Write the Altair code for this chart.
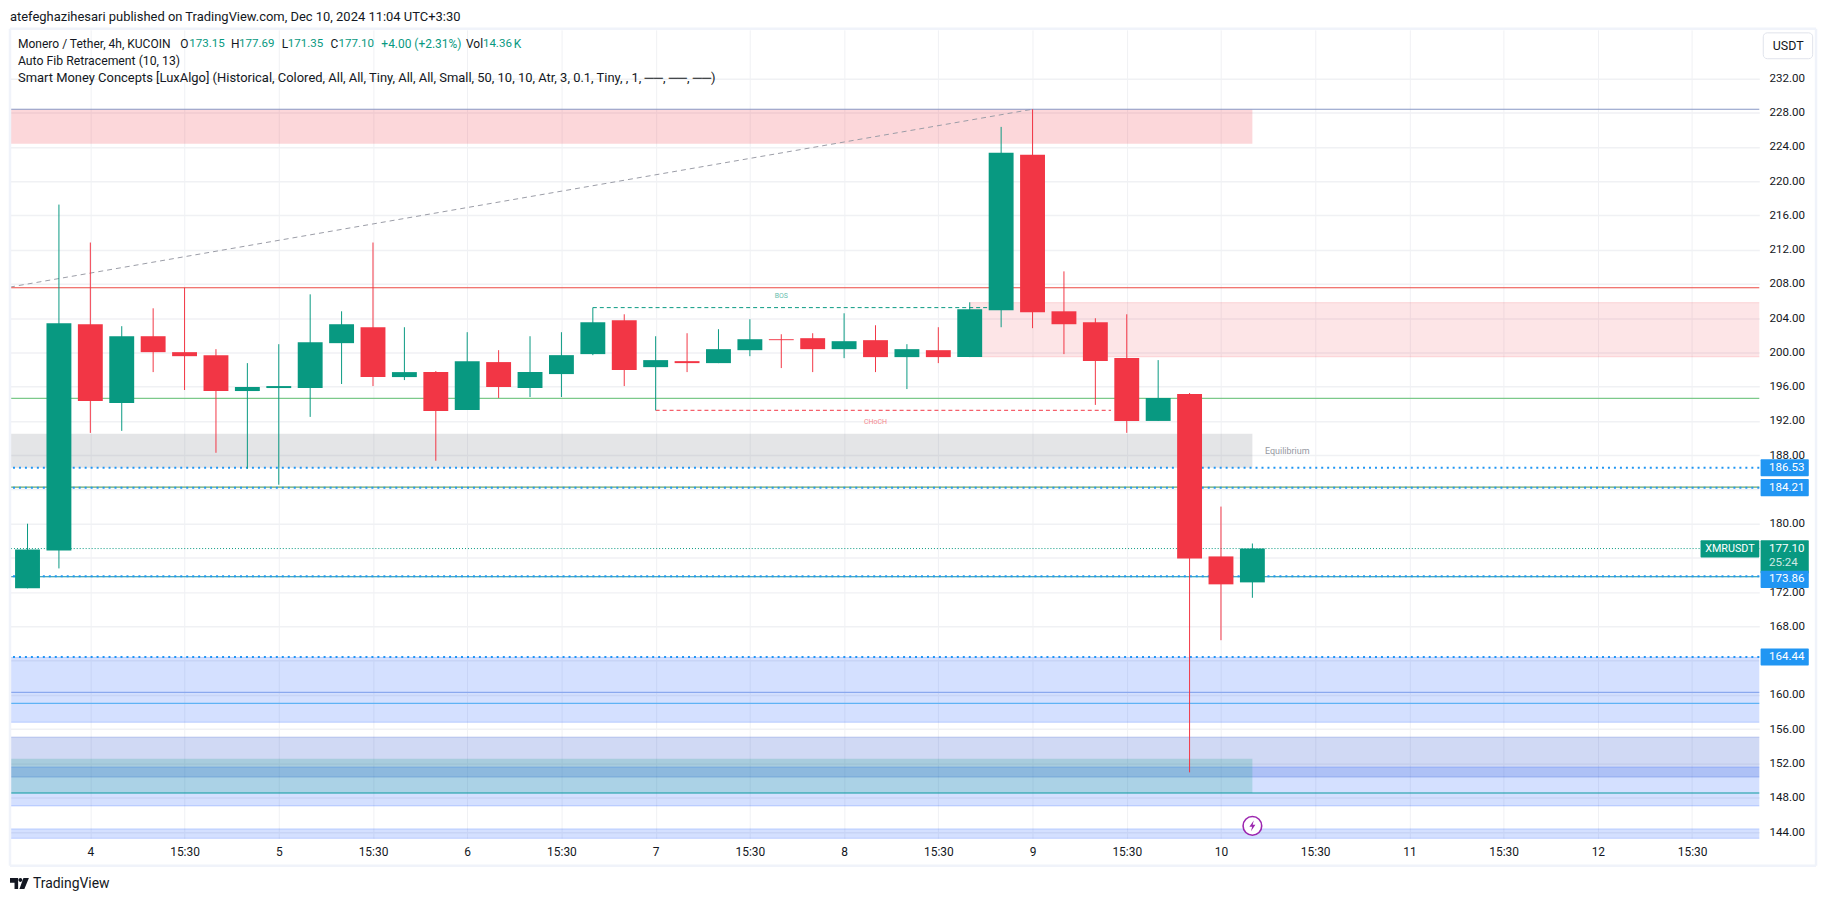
import altair as alt
import pandas as pd

# ---- data ----
opens  = [172.45,176.87,203.29,194.10,201.89,200.03,199.68,195.49,195.84,195.84,201.08,202.94,197.12,197.70,193.28,198.87,195.84,197.47,199.80,203.75,198.28,198.98,198.75,200.26,201.54,201.66,200.38,201.43,199.45,200.26,199.45,204.92,223.08,204.80,203.52,199.34,192.00,195.15,176.18,173.15]
closes = [176.99,203.40,194.33,201.89,200.03,199.56,195.49,195.96,196.07,201.19,203.29,197.12,197.70,193.16,198.98,195.96,197.70,199.68,203.52,197.94,199.10,198.75,200.38,201.54,201.43,200.38,201.31,199.45,200.38,199.45,205.03,223.31,204.69,203.29,198.99,192.00,194.68,175.95,172.92,177.10]
highs  = [180.00,217.26,212.83,203.06,205.15,207.55,200.38,198.75,200.96,206.78,204.80,212.83,202.94,197.82,202.36,200.26,201.89,202.36,205.23,204.45,201.89,202.24,202.71,203.87,202.12,202.24,204.57,203.17,200.96,202.94,205.85,226.33,228.39,209.46,203.99,204.45,199.10,195.26,182.00,177.69]
lows   = [172.45,174.78,190.60,190.84,197.70,195.61,188.28,186.42,184.55,192.47,196.31,196.07,196.77,187.35,193.28,194.68,194.79,194.79,199.68,196.07,193.24,197.70,198.75,199.56,198.17,197.70,199.33,197.70,195.72,198.75,199.45,202.94,202.83,199.80,193.87,190.61,192.00,150.97,166.40,171.35]

x_ticks = [2,5,8,11,14,17,20,23,26,29,32,35,38,41,44,47,50,53]
x_tick_labels = ["4","15:30","5","15:30","6","15:30","7","15:30","8","15:30","9","15:30","10","15:30","11","15:30","12","15:30"]
y_ticks = [144,148,152,156,160,168,172,180,188,192,196,200,204,208,212,216,220,224,228,232]
y_hidden_grid = [164,176,184]

XD = [-0.558, 55.14]
YD = [143.27, 237.66]

rect_x0 = [XD[0],30,XD[0],XD[0],XD[0],XD[0],XD[0],XD[0]]
rect_x1 = [39,XD[1],39,XD[1],XD[1],XD[1],39,XD[1]]
rect_top = [228.39,205.81,190.49,164.39,155.08,151.59,152.56,144.37]
rect_bot = [224.36,199.49,186.53,156.82,150.42,147.05,148.56,YD[0]]
rect_col = ["#f23645","#f23645","#787b86","#2962ff","#1441c8","#2962ff","#089981","#2962ff"]
rect_op  = [0.2,0.13,0.2,0.2,0.2,0.2,0.2,0.2]
rect_bd  = [0,0.12,0,0.2,0.2,0.2,0,0.2]

solid_p = [228.39,207.55,194.64,184.28,173.81,160.31,159.03,148.56]
solid_c = ["#8797c5","#ec4a43","#7cc98a","#6aa86a","#0a8fa8","#8aa8ee","#5eb3f5","#0b9aa0"]

dotted_p = [186.53,184.21,173.86,164.44]
badge_p  = [186.53,184.21,173.50,164.44]
badge_t  = ["186.53","184.21","173.86","164.44"]

# ---- geometry ----
W, H = 1757, 812
GREEN, RED, BLUE, INK = "#089981", "#f23645", "#2196f3", "#131722"
FONT = "Roboto"
xs = alt.Scale(domain=XD, nice=False, zero=False, padding=0)
ys = alt.Scale(domain=YD, nice=False, zero=False, padding=0)
GRID = "#f0f1f4"

label_map = "{" + ",".join(f'"{i}":"{t}"' for i, t in zip(x_ticks, x_tick_labels)) + "}"
x_axis = alt.Axis(
    values=x_ticks, labelExpr=f"{label_map}[datum.value]", grid=True, gridColor=GRID, gridWidth=1,
    ticks=False, domain=False, labelPadding=8, labelFont=FONT, labelFontSize=12, labelColor=INK,
    labelOverlap=False, labelFlush=False, title=None)
y_axis = alt.Axis(
    orient="right", values=y_ticks, format=".2f", grid=True, gridColor=GRID, gridWidth=1.5,
    ticks=False, domain=False, labelPadding=9.7, labelFont=FONT, labelFontSize=11.6, labelColor=INK,
    labelOverlap=False, labelFlush=False, title=None)

X = lambda f: alt.X(f, type="quantitative", scale=xs, axis=x_axis)
Y = lambda f: alt.Y(f, type="quantitative", scale=ys, axis=y_axis)

one = pd.DataFrame({"a": [0]})

grid_extra = alt.Chart(pd.DataFrame({"p": y_hidden_grid})).mark_rule(color=GRID, strokeWidth=1.5).encode(y=Y("p"))

rdf = pd.DataFrame({"x0": rect_x0, "x1": rect_x1, "t": rect_top, "b": rect_bot})
rects = []
for k, r in rdf.iterrows():
    rects.append(alt.Chart(pd.DataFrame([r])).mark_rect(
        color=rect_col[k], opacity=rect_op[k], strokeOpacity=0).encode(
        x=X("x0"), x2="x1", y=Y("t"), y2="b"))
    if rect_bd[k] > 0:
        for field in ("t", "b"):
            rects.append(alt.Chart(pd.DataFrame([r])).mark_rule(
                color=rect_col[k], opacity=rect_bd[k] + 0.05, strokeWidth=1).encode(
                x=X("x0"), x2="x1", y=Y(field)))

fib = alt.Chart(pd.DataFrame({"i": [XD[0], 32], "p": [207.63, 228.39]})).mark_line(
    color="#9a9ca6", strokeWidth=1, strokeDash=[5, 4]).encode(x=X("i"), y=Y("p"))

solids = [alt.Chart(pd.DataFrame({"p": [p]})).mark_rule(color=c, strokeWidth=1.2).encode(y=Y("p"))
          for p, c in zip(solid_p, solid_c)]
dots = alt.Chart(pd.DataFrame({"p": dotted_p})).mark_rule(
    color=BLUE, strokeWidth=2, strokeDash=[2, 4]).encode(y=Y("p"))
last = alt.Chart(pd.DataFrame({"p": [closes[-1]]})).mark_rule(
    color=GREEN, strokeWidth=1, strokeDash=[1, 2]).encode(y=Y("p"))

bos = alt.Chart(pd.DataFrame({"i": [18, 31], "p": [205.23, 205.23]})).mark_line(
    color=GREEN, strokeWidth=1, strokeDash=[4, 3]).encode(x=X("i"), y=Y("p"))
choch = alt.Chart(pd.DataFrame({"i": [20, 34.5], "p": [193.24, 193.24]})).mark_line(
    color=RED, strokeWidth=1, strokeDash=[4, 3]).encode(x=X("i"), y=Y("p"))

cdf = pd.DataFrame({"i": list(range(len(opens))), "o": opens, "c": closes, "h": highs, "l": lows})
cdf["dir"] = ["up" if c >= o else "down" for o, c in zip(opens, closes)]
dir_col = alt.Color("dir:N", scale=alt.Scale(domain=["up", "down"], range=[GREEN, RED]), legend=None)
wicks = alt.Chart(cdf).mark_rule(strokeWidth=1).encode(x=X("i"), y=Y("h"), y2="l", color=dir_col)
bodies = alt.Chart(cdf).mark_bar(size=25).encode(x=X("i"), y=Y("o"), y2="c", color=dir_col)

def page_text(text, px, py, color=INK, size=12, align="left", opacity=1.0, weight="normal"):
    return alt.Chart(one).mark_text(text=text, color=color, fontSize=size, align=align, baseline="middle",
                                    font=FONT, opacity=opacity, fontWeight=weight).encode(
        x=alt.value(px - 10), y=alt.value(py - 28))

def page_rule(x0, y0, x1, y1, color="#f0f3fa", w=2.5):
    return alt.Chart(one).mark_rule(color=color, strokeWidth=w).encode(
        x=alt.value(x0 - 10), x2=alt.value(x1 - 10), y=alt.value(y0 - 28), y2=alt.value(y1 - 28))

def data_text(text, i, p, color, size, opacity=1.0, align="center"):
    return alt.Chart(pd.DataFrame({"i": [i], "p": [p]})).mark_text(
        text=text, color=color, fontSize=size, opacity=opacity, align=align, baseline="middle", font=FONT
    ).encode(x=X("i"), y=Y("p"))

notes = [
    data_text("BOS", 24, 206.59, GREEN, 7, 0.65),
    data_text("CHoCH", 27, 191.85, RED, 7, 0.6),
    data_text("Equilibrium", 39.4, 188.5, "#9598a1", 9, 1, "left"),
]

badges = [
    alt.Chart(pd.DataFrame({"t": [178.07], "b": [174.2]})).mark_rect(color=GREEN, cornerRadius=1).encode(
        x=alt.value(1758.3), x2=alt.value(1806.7), y=Y("t"), y2="b"),
    alt.Chart(pd.DataFrame({"t": [178.07], "b": [176.05]})).mark_rect(color=GREEN, cornerRadius=1).encode(
        x=alt.value(1698), x2=alt.value(1757), y=Y("t"), y2="b"),
]
for p in badge_p:
    badges.append(alt.Chart(pd.DataFrame({"t": [p + 1.0], "b": [p - 1.0]})).mark_rect(color=BLUE, cornerRadius=1).encode(
        x=alt.value(1758.3), x2=alt.value(1806.7), y=Y("t"), y2="b"))

def price_label(p, t, px, size=11.6, opacity=1.0):
    return alt.Chart(pd.DataFrame({"p": [p], "t": [t]})).mark_text(
        color="white", fontSize=size, opacity=opacity, align="left", baseline="middle", font=FONT).encode(
        x=alt.value(px), y=Y("p"), text="t:N")

badge_txt = [price_label(p, t, 1766.7) for p, t in zip(badge_p, badge_t)]
cur_txt = [price_label(177.05, "177.10", 1766.7), price_label(175.43, "25:24", 1766.7, 11.6, 0.8),
           price_label(177.05, "XMRUSDT", 1702.7, 10.8)]

bolt = alt.Chart(pd.DataFrame({"i": [39], "p": [144.72]}))
bolt_c = bolt.mark_point(shape="circle", size=350, fill="white", stroke="#9c27b0", strokeWidth=1.6, opacity=1, filled=False).encode(x=X("i"), y=Y("p"))
bolt_s = bolt.mark_point(shape="M0.25,-1 L-0.55,0.15 L-0.05,0.15 L-0.25,1 L0.55,-0.2 L0.05,-0.2 Z", size=120,
                         fill="#9c27b0", filled=True, opacity=1).encode(x=X("i"), y=Y("p"))

usdt = alt.Chart(one).mark_rect(fill="white", stroke="#e0e3eb", strokeWidth=1, cornerRadius=4).encode(
    x=alt.value(1761), x2=alt.value(1810.6), y=alt.value(3), y2=alt.value(29))

logo = alt.Chart(one).mark_point(
    shape="M-1,-0.58 H-0.14 V0.58 H-0.52 V-0.08 H-1 Z M0.1,-0.58 A0.2,0.2 0 1 1 0.1,-0.18 A0.2,0.2 0 1 1 0.1,-0.58 Z M0.42,-0.58 H1 L0.52,0.58 H0 Z",
    size=361, filled=True, fill=INK, opacity=1).encode(x=alt.value(9.5), y=alt.value(857.5))

texts = [
    page_text("atefeghazihesari published on TradingView.com, Dec 10, 2024 11:04 UTC+3:30", 10, 15, INK, 13),
    page_text("Monero / Tether, 4h, KUCOIN", 18, 42, INK, 12.1),
    page_text("O", 181, 42, INK, 12), page_text("173.15", 190, 42, GREEN, 11.6),
    page_text("H", 232, 42, INK, 12), page_text("177.69", 240, 42, GREEN, 11.6),
    page_text("L", 283, 42, INK, 12), page_text("171.35", 289, 42, GREEN, 11.6),
    page_text("C", 332, 42, INK, 12), page_text("177.10", 340, 42, GREEN, 11.6),
    page_text("+4.00 (+2.31%)", 383, 42, GREEN, 12),
    page_text("Vol", 468, 42, INK, 12), page_text("14.36", 485, 42, GREEN, 11.6),
    page_text("K", 516, 42, GREEN, 12),
    page_text("Auto Fib Retracement (10, 13)", 18, 59, INK, 12.3),
    page_text("Smart Money Concepts [LuxAlgo] (Historical, Colored, All, All, Tiny, All, All, Small, 50, 10, 10, Atr, 3, 0.1, Tiny, , 1, ──, ──, ──)", 18, 76, INK, 13),
    page_text("USDT", 1796, 44, INK, 12.5, "center"),
    page_text("TradingView", 33, 886, INK, 14),
]

frame = [
    page_rule(10, 27, 1824, 27), page_rule(10, 867.5, 1824, 867.5),
    page_rule(10, 27, 10, 867.5), page_rule(1824, 27, 1824, 867.5),
]

chart = alt.layer(
    grid_extra, *rects, fib, *solids, dots, last, bos, choch, wicks, bodies, *notes,
    *badges, *badge_txt, *cur_txt, bolt_c, bolt_s, usdt, logo, *texts, *frame,
).properties(
    width=W, height=H,
    autosize=alt.AutoSizeParams(type="none"),
    padding={"left": 2, "top": 20, "right": 68, "bottom": 55},
    background="white",
).configure_view(stroke=None)

chart.save("out.html", embed_options={"renderer": "svg", "actions": False})
